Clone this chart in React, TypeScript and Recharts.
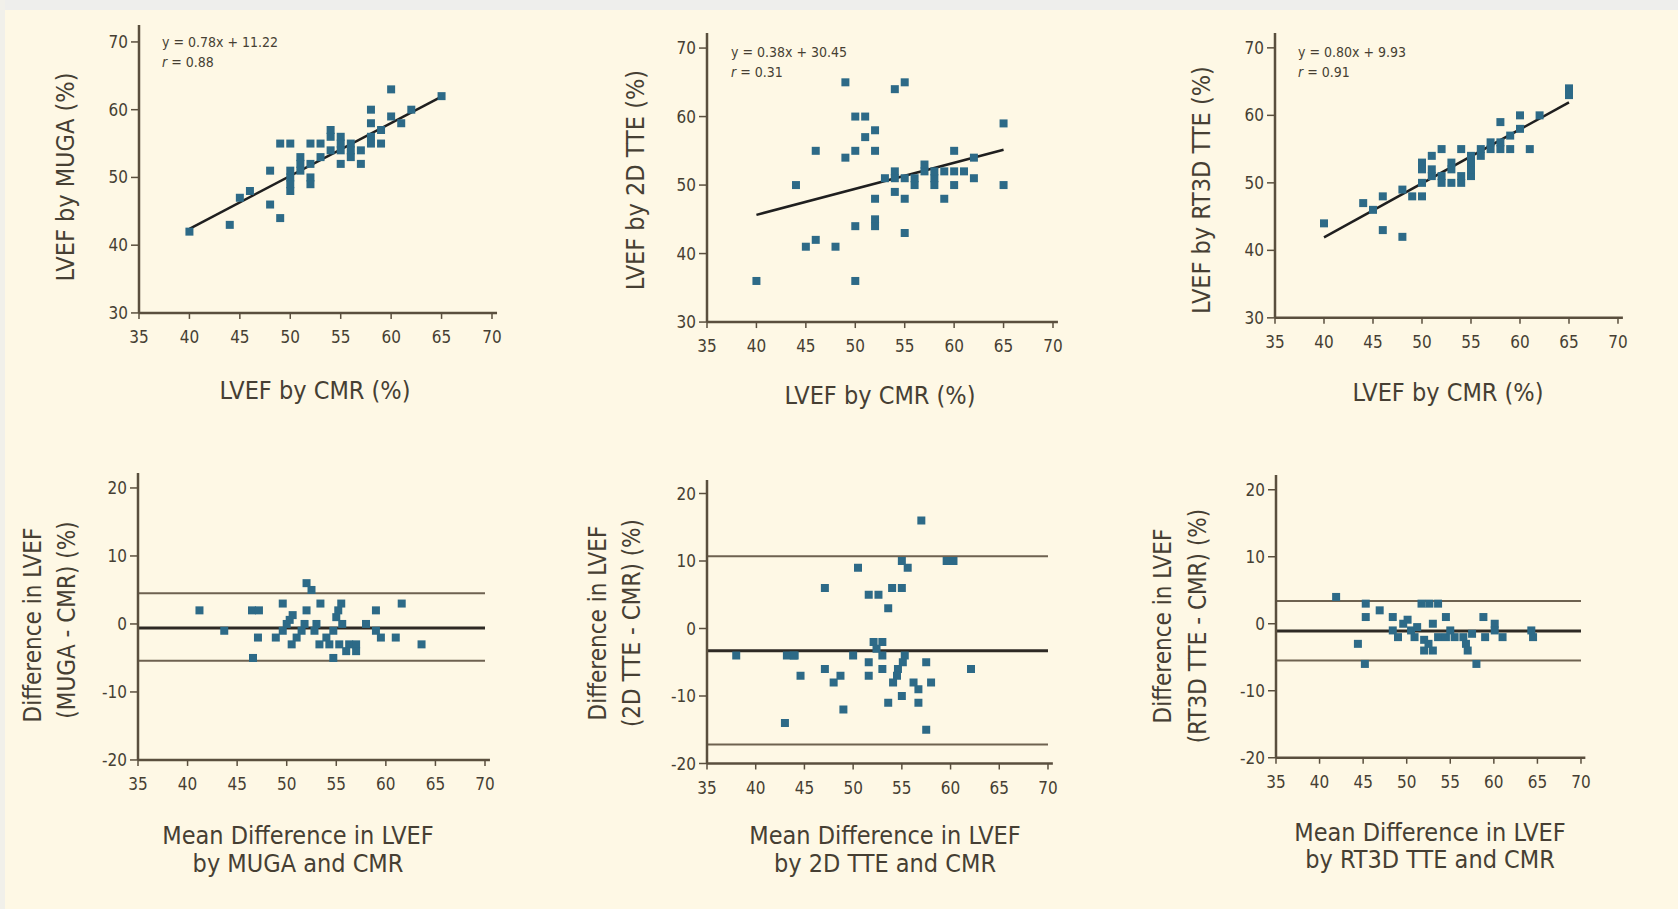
import React from 'react';
import {
  ScatterChart, Scatter, XAxis, YAxis, ZAxis, ReferenceLine,
} from 'recharts';

// LVEF correlation panels (x = CMR, y = other modality)
const mugaCorr = [
  [40, 42], [44, 43], [45, 47], [46, 48], [48, 51], [48, 46], [49, 44], [49, 55], [50, 55], [50, 50],
  [50, 49], [50, 48], [51, 52], [51, 53], [52, 55], [52, 52], [52, 50], [52, 49], [53, 53], [54, 57],
  [54, 56], [55, 55], [55, 56], [55, 52], [56, 53], [56, 55], [57, 52], [57, 54], [58, 60], [58, 58],
  [58, 56], [59, 55], [60, 63], [60, 59], [61, 58], [62, 60], [65, 62], [54, 54], [55, 54], [53, 55],
  [58, 55], [59, 57], [51, 51], [50, 51], [56, 54],
];
const tte2dCorr = [
  [40, 36], [44, 50], [45, 41], [46, 42], [46, 55], [48, 41], [49, 65], [49, 54], [50, 55], [50, 60],
  [51, 60], [51, 57], [52, 58], [52, 55], [50, 44], [50, 36], [52, 48], [52, 45], [52, 44], [54, 64],
  [55, 65], [53, 51], [54, 52], [54, 49], [55, 48], [55, 43], [55, 51], [56, 50], [57, 52], [57, 53],
  [58, 51], [58, 50], [58, 52], [59, 48], [60, 55], [60, 50], [60, 52], [61, 52], [62, 54], [62, 51],
  [65, 59], [65, 50], [56, 51], [54, 51], [59, 52],
];
const rt3dCorr = [
  [40, 44], [44, 47], [45, 46], [46, 48], [46, 43], [48, 42], [48, 49], [49, 48], [50, 48], [50, 50],
  [50, 53], [50, 52], [51, 54], [51, 51], [52, 55], [52, 51], [52, 50], [53, 52], [53, 53], [54, 55],
  [54, 50], [54, 51], [55, 51], [55, 52], [55, 54], [56, 54], [56, 55], [57, 55], [57, 56], [58, 55],
  [58, 59], [58, 56], [59, 55], [60, 60], [60, 58], [61, 55], [62, 60], [65, 64], [65, 63], [53, 50],
  [51, 52], [55, 53], [59, 57],
];

// Bland-Altman panels (x = mean, y = difference)
const mugaBA = [
  [41.2, 2], [43.7, -1], [46.5, 2], [47.2, 2], [47.1, -2], [46.6, -5], [49.6, 3], [48.9, -2], [49.6, -1],
  [50, 0], [50.3, 0.6], [50.6, 1.3], [50.5, -3], [51, -2], [51.5, -1], [52, 2], [52, 6], [52.5, 5],
  [53, 0], [53.4, 3], [53.3, -3], [54.3, -3], [55.3, -3], [56.3, -3], [57, -3], [54.7, -1], [54.7, -5],
  [55, 1], [55.2, 2], [55.5, 3], [57, -4], [58, 0], [59, 2], [59, -1], [59.5, -2], [61, -2], [61.6, 3],
  [63.6, -3], [54, -2], [56, -4], [55.6, 0], [52.8, -1], [51.8, 0],
];
const tte2dBA = [
  [38, -4], [43.2, -4], [43.9, -4], [44.6, -7], [43, -14], [47.1, 6], [47.1, -6], [48, -8], [48.7, -7],
  [49, -12], [50, -4], [50.5, 9], [51.6, 5], [52.6, 5], [51.6, -5], [51.6, -7], [52.1, -2], [53, -2],
  [52.4, -3], [53, -6], [53.6, 3], [53.6, -11], [54, 6], [55, 6], [54.1, -8], [54.6, -6], [55.1, -5],
  [55, -10], [55, 10], [55.6, 9], [56.2, -8], [56.7, -9], [56.7, -11], [57, 16], [57.5, -5], [57.5, -15],
  [58, -8], [59.6, 10], [60.3, 10], [62.1, -6], [53, -4], [54.5, -7], [55.3, -4], [44, -4],
];
const rt3dBA = [
  [41.9, 4], [45.3, 3], [45.3, 1], [46.9, 2], [44.4, -3], [45.2, -6], [48.4, 1], [48.4, -1], [49, -2],
  [49.6, 0], [50.1, 0.6], [50.5, -1], [50.9, -2], [51.7, 3], [52.6, 3], [53.6, 3], [52, -4], [53, -4],
  [52, -2.4], [53, 0], [53.6, -2], [54.5, -2], [55.5, -2], [56.5, -2], [54.5, 1], [56.8, -3], [57, -4],
  [58, -6], [58.8, 1], [59, -2], [60.1, 0], [60.1, -1], [61, -2], [64.3, -1], [64.5, -2], [52.5, -3],
  [55, -1], [57.5, -1.5], [51.2, -0.5],
];

const xTicks = [35, 40, 45, 50, 55, 60, 65, 70];
const corrTicks = [30, 40, 50, 60, 70];
const baTicks = [-20, -10, 0, 10, 20];

// regression fits [slope, intercept] and Bland-Altman [mean, upper, lower]
const fitMuga = [0.78, 11.22];
const fitTte2d = [0.38, 30.45];
const fitRt3d = [0.80, 9.93];
const baMuga = [-0.6, 4.5, -5.4];
const baTte2d = [-3.3, 10.7, -17.2];
const baRt3d = [-1.1, 3.4, -5.5];

const AXIS = '#5a4f3e';
const DOT = '#2d6a87';
const FONT = "'DejaVu Sans Condensed', 'Liberation Sans Narrow', 'Liberation Sans', sans-serif";

const toPts = (a: number[][]) => a.map(([x, y]) => ({ x, y }));

type PanelProps = {
  p35: number; p70: number; pTop: number; pBot: number;
  lo: number; hi: number; yExt: number; yTicks: number[];
  pts: number[][];
  fit?: number[];
  ba?: number[];
};

function Panel({ p35, p70, pTop, pBot, lo, hi, yExt, yTicks, pts, fit, ba }: PanelProps) {
  const xExt = 0.5;
  const plotW = (p70 - p35) * (35 + xExt) / 35;
  const plotH = (pBot - pTop) * (hi - lo + yExt) / (hi - lo);
  const plotTop = pTop - (pBot - pTop) * yExt / (hi - lo);
  const yW = 60;
  const xH = 45;
  const width = yW + plotW + 10;
  const height = 5 + plotH + xH;
  const tick = { fill: '#463f33', fontSize: 17, fontFamily: FONT };
  return (
    <div style={{ position: 'absolute', left: p35 - yW, top: plotTop - 5 }}>
      <ScatterChart width={width} height={height} margin={{ top: 5, right: 10, bottom: 0, left: 0 }}>
        <XAxis
          type="number" dataKey="x" domain={[35, 70 + xExt]} ticks={xTicks} height={xH}
          tick={tick} tickSize={6} tickMargin={12}
          axisLine={{ stroke: AXIS, strokeWidth: 2.5 }} tickLine={{ stroke: AXIS, strokeWidth: 1.5 }}
        />
        <YAxis
          type="number" dataKey="y" domain={[lo, hi + yExt]} ticks={yTicks} width={yW}
          tick={tick} tickSize={8} tickMargin={3}
          axisLine={{ stroke: AXIS, strokeWidth: 2.5 }} tickLine={{ stroke: AXIS, strokeWidth: 1.5 }}
        />
        <ZAxis range={[52, 52]} />
        {ba && (
          <>
            <ReferenceLine segment={[{ x: 35, y: ba[1] }, { x: 70, y: ba[1] }]} stroke="#6e6250" strokeWidth={2} />
            <ReferenceLine segment={[{ x: 35, y: ba[2] }, { x: 70, y: ba[2] }]} stroke="#6e6250" strokeWidth={2} />
            <ReferenceLine segment={[{ x: 35, y: ba[0] }, { x: 70, y: ba[0] }]} stroke="#2e2a24" strokeWidth={3} />
          </>
        )}
        <Scatter data={toPts(pts)} fill={DOT} shape="square" isAnimationActive={false} />
        {fit && (
          <ReferenceLine
            segment={[{ x: 40, y: fit[0] * 40 + fit[1] }, { x: 65, y: fit[0] * 65 + fit[1] }]}
            stroke="#1f1f1f" strokeWidth={2.5}
          />
        )}
      </ScatterChart>
    </div>
  );
}

const txt: React.CSSProperties = {
  position: 'absolute', fontFamily: FONT, color: '#463f33', whiteSpace: 'nowrap',
};

function T({ x, y, children, rot, size }: { x: number; y: number; children: React.ReactNode; rot?: boolean; size?: number }) {
  return (
    <div style={{ ...txt, left: x, top: y, fontSize: size ?? 25, transform: `translate(-50%, -50%)${rot ? ' rotate(-90deg)' : ''}` }}>
      {children}
    </div>
  );
}

function Eq({ x, y, lines }: { x: number; y: number; lines: string[] }) {
  return (
    <div style={{ position: 'absolute', left: x, top: y, fontFamily: FONT, fontSize: 14, lineHeight: '20px', color: '#463f33' }}>
      {lines.map((l, i) => (
        <div key={i}>{i === 1 ? <><i>r</i>{l}</> : l}</div>
      ))}
    </div>
  );
}

export default function App() {
  return (
    <div style={{ position: 'fixed', left: 0, top: 0, width: 1678, height: 909, background: '#fef8e5', overflow: 'hidden' }}>
      <div style={{ position: 'absolute', left: 0, top: 0, width: 1678, height: 10, background: '#eeeeec' }} />
      <div style={{ position: 'absolute', left: 0, top: 0, width: 5, height: 909, background: '#f1f0ea' }} />

      <Panel p35={139} p70={492} pTop={42} pBot={313} lo={30} hi={70} yExt={2.5} yTicks={corrTicks} pts={mugaCorr} fit={fitMuga} />
      <Panel p35={707} p70={1053} pTop={48} pBot={322} lo={30} hi={70} yExt={2.2} yTicks={corrTicks} pts={tte2dCorr} fit={fitTte2d} />
      <Panel p35={1275} p70={1618} pTop={48} pBot={318} lo={30} hi={70} yExt={2.2} yTicks={corrTicks} pts={rt3dCorr} fit={fitRt3d} />
      <Panel p35={138} p70={485} pTop={488} pBot={760} lo={-20} hi={20} yExt={2.2} yTicks={baTicks} pts={mugaBA} ba={baMuga} />
      <Panel p35={707} p70={1048} pTop={493} pBot={763} lo={-20} hi={20} yExt={2} yTicks={baTicks} pts={tte2dBA} ba={baTte2d} />
      <Panel p35={1276} p70={1581} pTop={490} pBot={758} lo={-20} hi={20} yExt={2.2} yTicks={baTicks} pts={rt3dBA} ba={baRt3d} />

      <Eq x={162} y={32} lines={[`y = ${fitMuga[0].toFixed(2)}x + ${fitMuga[1].toFixed(2)}`, ' = 0.88']} />
      <Eq x={731} y={42} lines={[`y = ${fitTte2d[0].toFixed(2)}x + ${fitTte2d[1].toFixed(2)}`, ' = 0.31']} />
      <Eq x={1298} y={42} lines={[`y = ${fitRt3d[0].toFixed(2)}x + ${fitRt3d[1].toFixed(2)}`, ' = 0.91']} />

      <T x={315} y={390}>LVEF by CMR (%)</T>
      <T x={880} y={395}>LVEF by CMR (%)</T>
      <T x={1448} y={392}>LVEF by CMR (%)</T>
      <T x={65} y={177} rot>LVEF by MUGA (%)</T>
      <T x={635} y={180} rot>LVEF by 2D TTE (%)</T>
      <T x={1201} y={190} rot>LVEF by RT3D TTE (%)</T>

      <T x={298} y={835}>Mean Difference in LVEF</T>
      <T x={298} y={863}>by MUGA and CMR</T>
      <T x={885} y={835}>Mean Difference in LVEF</T>
      <T x={885} y={863}>by 2D TTE and CMR</T>
      <T x={1430} y={832}>Mean Difference in LVEF</T>
      <T x={1430} y={859}>by RT3D TTE and CMR</T>

      <T x={33} y={625} rot size={24}>Difference in LVEF</T>
      <T x={67} y={620} rot size={24}>(MUGA - CMR) (%)</T>
      <T x={598} y={623} rot size={24}>Difference in LVEF</T>
      <T x={632} y={623} rot size={24}>(2D TTE - CMR) (%)</T>
      <T x={1163} y={626} rot size={24}>Difference in LVEF</T>
      <T x={1198} y={626} rot size={24}>(RT3D TTE - CMR) (%)</T>
    </div>
  );
}
